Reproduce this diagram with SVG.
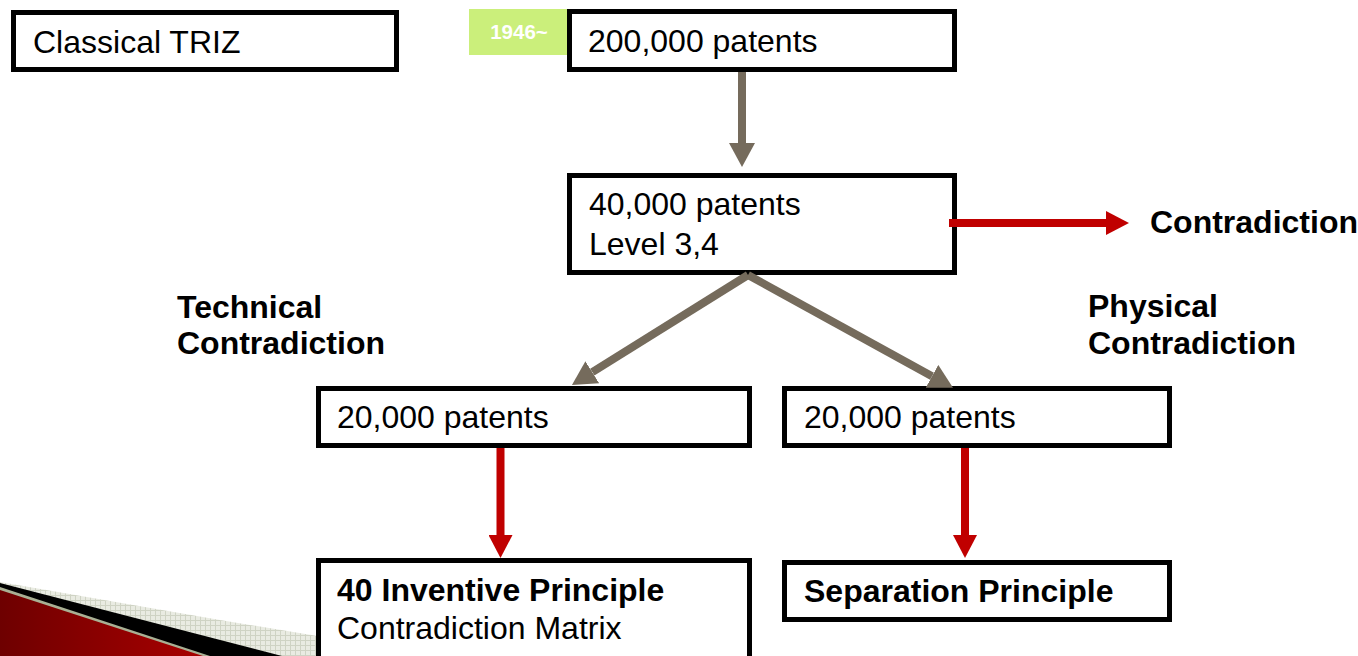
<svg xmlns="http://www.w3.org/2000/svg" width="1358" height="656" viewBox="0 0 1358 656">
  <style>
    .box { fill: #ffffff; stroke: #000000; stroke-width: 5; }
    .txt { font-family: "Liberation Sans", Arial, sans-serif; font-size: 32px; fill: #000000; }
    .bold { font-weight: bold; }
    .gray { stroke: #756b5c; stroke-width: 8; fill: none; }
    .red { stroke: #c00000; stroke-width: 8; fill: none; }
  </style>
  <defs>
    <marker id="headGray" markerUnits="userSpaceOnUse" markerWidth="24" markerHeight="26" refX="0" refY="13" orient="auto">
      <path d="M0,0 L24,13 L0,26 z" fill="#756b5c"/>
    </marker>
    <marker id="headRed" markerUnits="userSpaceOnUse" markerWidth="23" markerHeight="24" refX="0" refY="12" orient="auto">
      <path d="M0,0 L23,12 L0,24 z" fill="#c00000"/>
    </marker>
    <linearGradient id="redFill" x1="0" y1="0" x2="1" y2="0">
      <stop offset="0" stop-color="#6e0000"/>
      <stop offset="1" stop-color="#a80000"/>
    </linearGradient>
    <pattern id="hatch" width="5" height="5" patternUnits="userSpaceOnUse">
      <rect width="5" height="5" fill="#e9ebe2"/>
      <path d="M0,0.5 H5 M0.5,0 V5" stroke="#cfd3c4" stroke-width="1"/>
    </pattern>
  </defs>

  <!-- corner ornament -->
  <g id="ornament">
    <path d="M0,582 L220,620 L420,653 L432,656 L0,656 z" fill="url(#hatch)"/>
    <path d="M0,583 L282,656 L0,656 z" fill="#000000"/>
    <path d="M0,587 L210,656 L0,656 z" fill="#a9b094"/>
    <path d="M0,590 L203,656 L0,656 z" fill="url(#redFill)"/>
  </g>

  <g id="classical-triz">
    <rect class="box" x="13.5" y="12.5" width="383" height="57"/>
    <text class="txt" x="33" y="53">Classical TRIZ</text>
  </g>

  <g id="year-tag">
    <rect x="469" y="9" width="100" height="46" fill="#cbef7b"/>
    <text x="519" y="39" text-anchor="middle" font-family="Liberation Sans, Arial, sans-serif" font-size="20.5" font-weight="bold" fill="#ffffff">1946~</text>
  </g>

  <g id="patents-200000">
    <rect class="box" x="569.5" y="11.5" width="385" height="58"/>
    <text class="txt" x="588" y="52">200,000 patents</text>
  </g>

  <g id="patents-40000">
    <rect class="box" x="569.5" y="175.5" width="385" height="97"/>
    <text class="txt" x="589" y="215">40,000 patents</text>
    <text class="txt" x="589" y="255">Level 3,4</text>
  </g>

  <g id="contradiction">
    <text class="txt bold" x="1150" y="233">Contradiction</text>
  </g>

  <g id="technical-contradiction">
    <text class="txt bold" x="177" y="318">Technical</text>
    <text class="txt bold" x="177" y="354">Contradiction</text>
  </g>

  <g id="physical-contradiction">
    <text class="txt bold" x="1088" y="317">Physical</text>
    <text class="txt bold" x="1088" y="354">Contradiction</text>
  </g>

  <g id="patents-20000-left">
    <rect class="box" x="318.5" y="388.5" width="431" height="57"/>
    <text class="txt" x="337" y="428">20,000 patents</text>
  </g>

  <g id="patents-20000-right">
    <rect class="box" x="784.5" y="388.5" width="385" height="57"/>
    <text class="txt" x="804" y="428">20,000 patents</text>
  </g>

  <g id="inventive-principle">
    <rect class="box" x="318.5" y="560.5" width="431" height="120"/>
    <text class="txt bold" x="337" y="601">40 Inventive Principle</text>
    <text class="txt" x="337" y="639">Contradiction Matrix</text>
  </g>

  <g id="separation-principle">
    <rect class="box" x="784.5" y="562.5" width="385" height="57"/>
    <text class="txt bold" x="804" y="602">Separation Principle</text>
  </g>

  <g id="connectors">
    <line class="gray" x1="742" y1="72" x2="742" y2="143" marker-end="url(#headGray)"/>
    <line class="gray" x1="748" y1="275" x2="592.3" y2="372.2" marker-end="url(#headGray)"/>
    <line class="gray" x1="748" y1="275" x2="932" y2="376.3" marker-end="url(#headGray)"/>
    <line class="red" x1="949" y1="223" x2="1106" y2="223" marker-end="url(#headRed)"/>
    <line class="red" x1="500.5" y1="448" x2="500.5" y2="535" marker-end="url(#headRed)"/>
    <line class="red" x1="965" y1="448" x2="965" y2="535" marker-end="url(#headRed)"/>
  </g>
</svg>
